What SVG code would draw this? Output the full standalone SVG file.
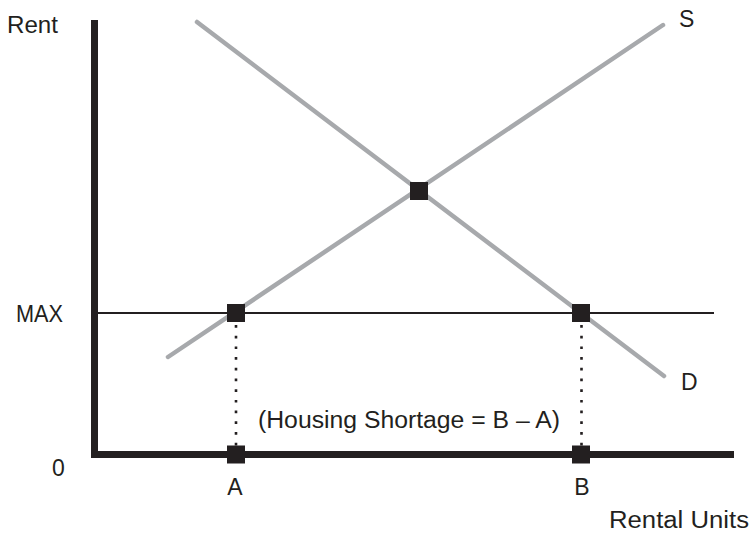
<svg xmlns="http://www.w3.org/2000/svg" width="754" height="533" viewBox="0 0 754 533">
<style>
.t{font-family:"Liberation Sans",Arial,sans-serif;font-size:23px;fill:#231f20}
.curve{fill:none;stroke:#a7a9ac;stroke-width:4.5;stroke-linecap:round}
.dot{fill:none;stroke:#231f20;stroke-width:2.6;stroke-dasharray:2.7 8}
.pt{fill:#231f20}
</style>
<rect width="754" height="533" fill="#ffffff"/>
<g id="axes">
<path d="M94.5 20 V454.5 H734" fill="none" stroke="#231f20" stroke-width="7"/>
<line x1="98" y1="313" x2="714" y2="313" stroke="#231f20" stroke-width="2"/>
</g>
<g id="connectors">
<line id="supply" class="curve" x1="168" y1="357" x2="663" y2="25"/>
<line id="demand" class="curve" x1="197" y1="22" x2="664" y2="376"/>
<line class="dot" x1="236" y1="325" x2="236" y2="446"/>
<line class="dot" x1="581.5" y1="325" x2="581.5" y2="446"/>
</g>
<g id="equilibrium"><rect class="pt" x="410" y="182" width="18" height="18"/></g>
<g id="maxA"><rect class="pt" x="227" y="304" width="18" height="18"/></g>
<g id="maxB"><rect class="pt" x="572" y="304" width="18" height="18"/></g>
<g id="pointA"><rect class="pt" x="227" y="445.5" width="18" height="18"/></g>
<g id="pointB"><rect class="pt" x="572" y="445.5" width="18" height="18"/></g>
<g id="labels">
<text class="t" x="7" y="33" textLength="51" lengthAdjust="spacingAndGlyphs">Rent</text>
<text class="t" x="16" y="322" textLength="47" lengthAdjust="spacingAndGlyphs">MAX</text>
<text class="t" x="52" y="476">0</text>
<text class="t" x="235" y="495" text-anchor="middle">A</text>
<text class="t" x="582" y="495" text-anchor="middle">B</text>
<text class="t" x="609" y="528" textLength="140" lengthAdjust="spacingAndGlyphs">Rental Units</text>
<text class="t" x="679" y="27">S</text>
<text class="t" x="681" y="390">D</text>
<text class="t" x="258" y="428" textLength="302" lengthAdjust="spacingAndGlyphs">(Housing Shortage = B – A)</text>
</g>
</svg>
